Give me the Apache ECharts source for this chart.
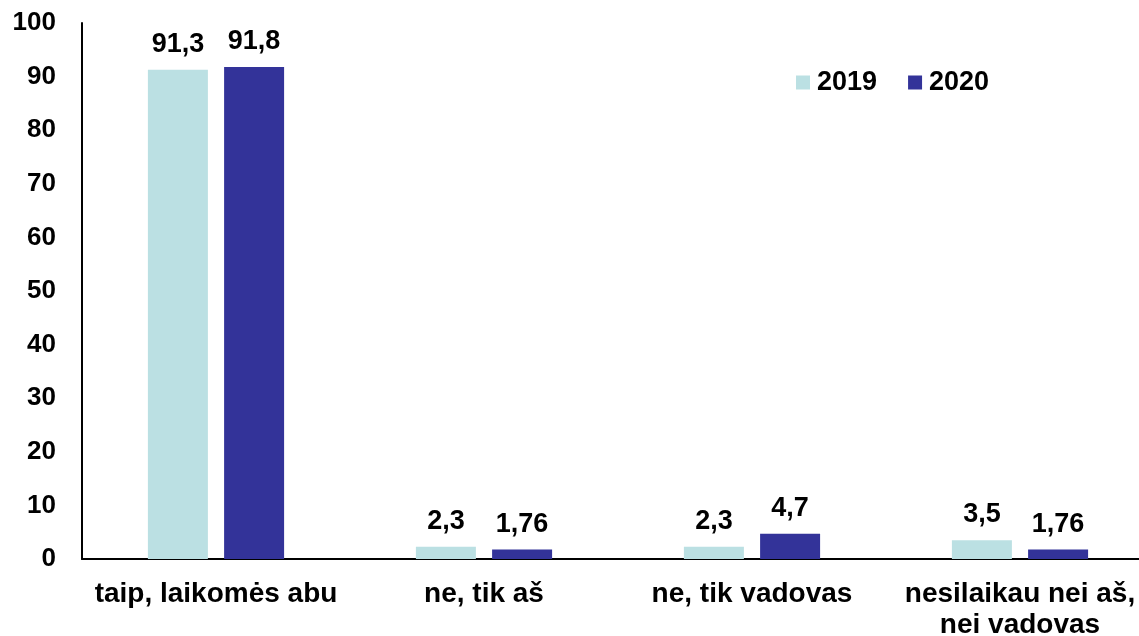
<!DOCTYPE html>
<html>
<head>
<meta charset="utf-8">
<script src="https://cdn.jsdelivr.net/npm/echarts@6/dist/echarts.min.js"></script>
<style>
  html, body { margin: 0; padding: 0; background: #fff; }
  #chart { width: 1139px; height: 636px; }
</style>
</head>
<body>
<div id="chart"></div>
<script>
// duomenys
var categories = ['taip, laikomės abu', 'ne, tik aš', 'ne, tik vadovas', 'nesilaikau nei aš,\nnei vadovas'];
var values2019 = [91.3, 2.3, 2.3, 3.5];
var values2020 = [91.8, 1.76, 4.7, 1.76];
var labels2019 = ['91,3', '2,3', '2,3', '3,5'];
var labels2020 = ['91,8', '1,76', '4,7', '1,76'];

var fontFam = '"Liberation Sans", Arial, sans-serif';
var myChart = echarts.init(document.getElementById('chart'));

function labelOpt(texts) {
    return {
        show: true,
        position: 'top',
        distance: 12,
        color: '#000',
        fontFamily: fontFam,
        fontWeight: 'bold',
        fontSize: 27,
        formatter: function(p) { return texts[p.dataIndex]; }
    };
}

var option = {
    animation: false,
    textStyle: { fontFamily: fontFam },
    // plot runs past the right edge, as in the original picture
    grid: { left: 82, width: 1072, top: 23, height: 536, outerBoundsMode: 'none', containLabel: false },
    legend: {
        left: 791,
        top: 64,
        itemWidth: 14,
        itemHeight: 14,
        itemGap: 31,
        icon: 'rect',
        textStyle: { color: '#000', fontSize: 27, fontWeight: 'bold', fontFamily: fontFam, padding: [0, 0, 0, 2] },
        data: ['2019', '2020']
    },
    xAxis: {
        type: 'category',
        data: categories,
        axisLine: { lineStyle: { color: '#000', width: 2 } },
        axisTick: { show: false },
        axisLabel: {
            interval: 0,
            color: '#000',
            fontSize: 28,
            fontWeight: 'bold',
            fontFamily: fontFam,
            margin: 20,
            lineHeight: 31
        }
    },
    yAxis: {
        type: 'value',
        min: 0,
        max: 100,
        interval: 10,
        axisLine: { show: true, lineStyle: { color: '#000', width: 2 } },
        axisTick: { show: false },
        splitLine: { show: false },
        axisLabel: {
            color: '#000',
            fontSize: 26,
            fontWeight: 'bold',
            fontFamily: fontFam,
            margin: 26
        }
    },
    series: [{
        name: '2019',
        type: 'bar',
        barWidth: 60,
        barGap: '27%',
        itemStyle: { color: '#BBE0E3' },
        label: labelOpt(labels2019),
        data: values2019
    }, {
        name: '2020',
        type: 'bar',
        barWidth: 60,
        itemStyle: { color: '#333399' },
        label: labelOpt(labels2020),
        data: values2020
    }]
};
myChart.setOption(option);
</script>
</body>
</html>
